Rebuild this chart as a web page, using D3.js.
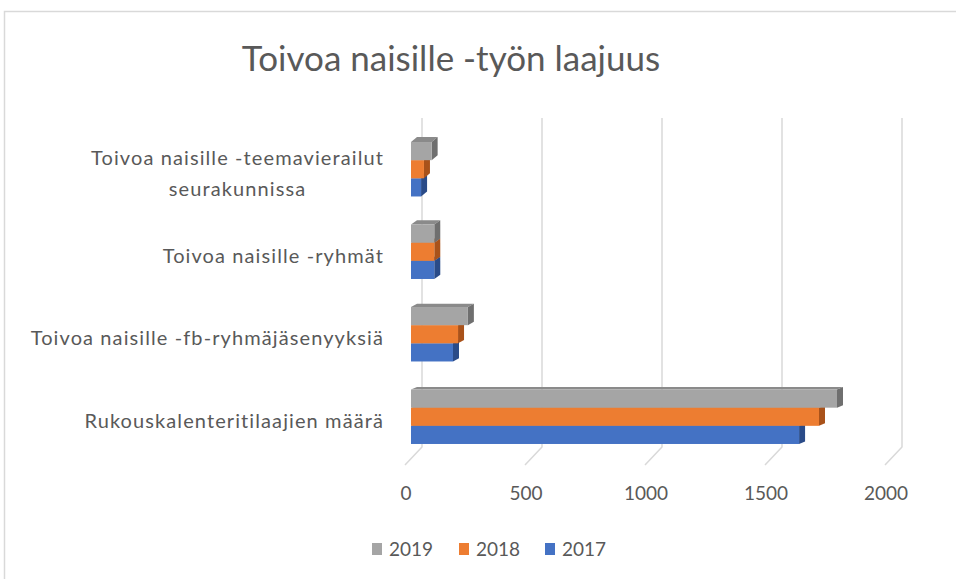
<!DOCTYPE html>
<html>
<head>
<meta charset="utf-8">
<script src="https://cdn.jsdelivr.net/npm/d3@7"></script>
<style>
  body { margin: 0; background: #ffffff; }
  text { font-family: Lato, "Open Sans", sans-serif; fill: #595959; }
</style>
</head>
<body>
<script>
// data
var categories = ["teemavierailut", "ryhmat", "fb", "rukous"];
var categoryLabels = [
  ["Toivoa naisille -teemavierailut", "seurakunnissa"],
  ["Toivoa naisille -ryhmät"],
  ["Toivoa naisille -fb-ryhmäjäsenyyksiä"],
  ["Rukouskalenteritilaajien määrä"]
];
var years = ["2019", "2018", "2017"];
var values2019 = [86, 97, 237, 1775];
var values2018 = [54, 97, 196, 1700];
var values2017 = [42, 97, 175, 1617];
var xTicks = [0, 500, 1000, 1500, 2000];

var colors = {
  "2019": {front: "#a5a5a5", side: "#6f6f6f", top: "#8a8a8a"},
  "2018": {front: "#ed7d31", side: "#a9521a", top: "#c96523"},
  "2017": {front: "#4472c4", side: "#2a4b88", top: "#3861ab"}
};

function seriesValues(year) {
  if (year === "2019") return values2019;
  if (year === "2018") return values2018;
  return values2017;
}

function makeChart() {
  var width = 956, height = 579;

  var svg = d3.select("body").append("svg")
              .attr("width", width)
              .attr("height", height);

  // chart area border
  svg.append("rect")
     .attr("x", 4.5).attr("y", 11.5)
     .attr("width", 1000).attr("height", 1000)
     .attr("fill", "#ffffff")
     .attr("stroke", "#d9d9d9")
     .attr("stroke-width", 1.5);

  // title
  svg.append("text")
     .attr("x", 451).attr("y", 71)
     .attr("text-anchor", "middle")
     .style("font-size", "35px")
     .text("Toivoa naisille -työn laajuus");

  var x = d3.scaleLinear().domain([0, 2000]).range([411, 891]);
  var y = d3.scaleBand().domain(categories)
            .range([128, 458])
            .paddingInner(0.34).paddingOuter(0.17);
  var ySeries = d3.scaleBand().domain(years).range([0, y.bandwidth()]);
  // top face gets flatter lower down (perspective)
  var depthY = d3.scaleLinear().domain([142, 390]).range([5, 2.5]);
  var depthX = 6;

  // gridlines: back wall + slant on floor
  svg.append("g").selectAll("path")
     .data(xTicks).enter()
     .append("path")
       .attr("d", function(d) {
         return "M" + (x(d) + 11) + ",118V447L" + (x(d) - 6) + ",465";
       })
       .attr("fill", "none")
       .attr("stroke", "#d9d9d9")
       .attr("stroke-width", 1.5);

  // tick labels
  svg.append("g").selectAll("text")
     .data(xTicks).enter()
     .append("text")
       .attr("x", function(d) { return x(d) - 5; })
       .attr("y", 493)
       .attr("dy", "0.35em")
       .attr("text-anchor", "middle")
       .style("font-size", "19px")
       .text(function(d) { return d; });

  // bars, drawn bottom series first so upper bars cover side faces
  var drawOrder = ["2017", "2018", "2019"];
  var bars = svg.append("g");
  categories.forEach(function(cat, i) {
    drawOrder.forEach(function(year) {
      var v = seriesValues(year)[i];
      var x0 = x(0), x1 = x(v);
      var y0 = y(cat) + ySeries(year), y1 = y0 + ySeries.bandwidth();
      var dy = depthY(y(cat));
      var c = colors[year];
      var g = bars.append("g");
      g.append("polygon")
       .attr("points", [[x0, y0], [x0 + depthX, y0 - dy], [x1 + depthX, y0 - dy], [x1, y0]].join(" "))
       .attr("fill", c.top);
      g.append("polygon")
       .attr("points", [[x1, y0], [x1 + depthX, y0 - dy], [x1 + depthX, y1 - dy], [x1, y1]].join(" "))
       .attr("fill", c.side);
      g.append("rect")
       .attr("x", x0).attr("y", y0)
       .attr("width", x1 - x0).attr("height", y1 - y0)
       .attr("fill", c.front);
    });
  });

  // category labels (right aligned block, lines centred)
  var labels = svg.append("g");
  categories.forEach(function(cat, i) {
    var lines = categoryLabels[i];
    var lineH = 31;
    var cy = y(cat) + y.bandwidth() / 2 + 4;
    var t = labels.append("g");
    var texts = t.selectAll("text")
                 .data(lines).enter()
                 .append("text")
                   .attr("y", function(d, j) { return cy + (j - (lines.length - 1) / 2) * lineH; })
                   .attr("dy", "0.35em")
                   .attr("text-anchor", "middle")
                   .style("font-size", "20px")
                   .style("letter-spacing", "1.1px")
                   .text(function(d) { return d; });
    var maxW = 0;
    texts.each(function() { maxW = Math.max(maxW, this.getComputedTextLength()); });
    texts.attr("x", 384 - maxW / 2);
  });

  // legend
  var legendX = [372, 459, 545];
  var legend = svg.append("g");
  years.forEach(function(year, i) {
    legend.append("rect")
          .attr("x", legendX[i]).attr("y", 543)
          .attr("width", 10).attr("height", 12)
          .attr("fill", colors[year].front);
    legend.append("text")
          .attr("x", legendX[i] + 17).attr("y", 549)
          .attr("dy", "0.35em")
          .style("font-size", "19px")
          .text(year);
  });
}

window.onload = function() {
  makeChart();
};
</script>
</body>
</html>
